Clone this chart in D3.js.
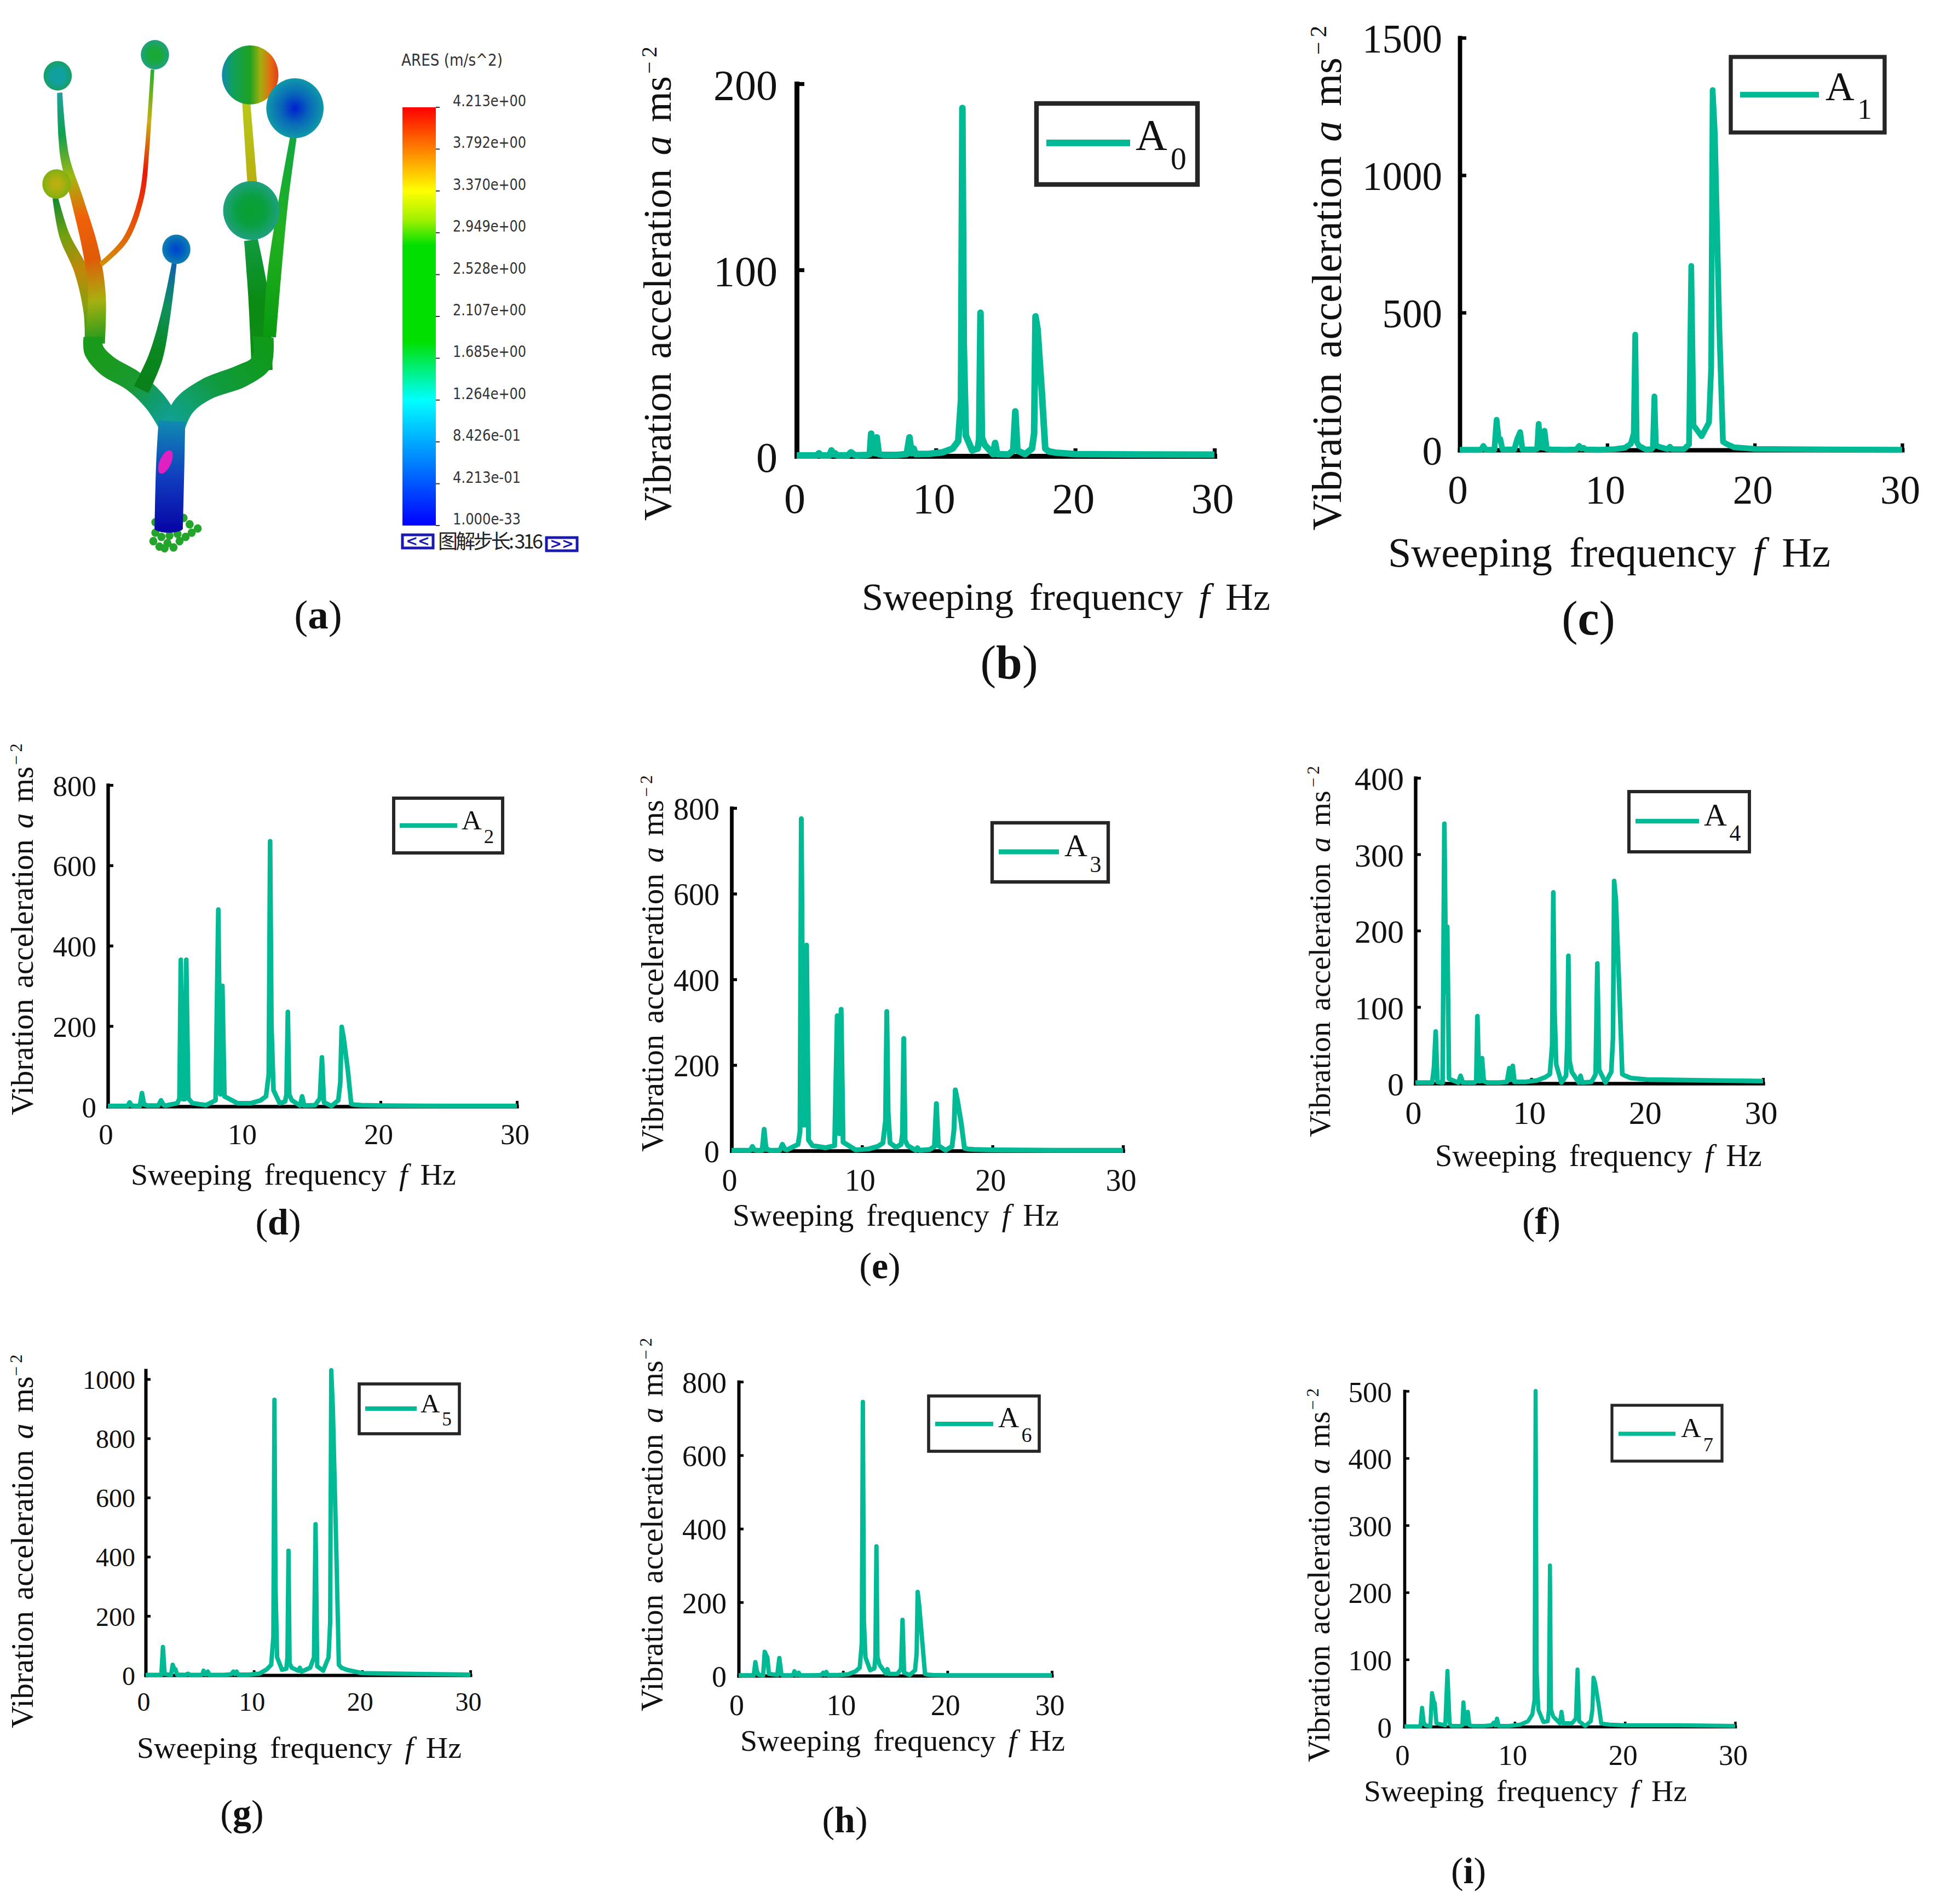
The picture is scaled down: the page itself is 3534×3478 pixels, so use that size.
<!DOCTYPE html>
<html>
<head>
<meta charset="utf-8">
<style>
  html, body { margin: 0; padding: 0; background: #fff; }
  svg { display: block; }
  text { font-family: "Liberation Serif", serif; fill: #111; }
</style>
<script src="https://cdn.jsdelivr.net/npm/d3@7"></script>
</head>
<body>
<div id="chart"></div>
<script>
(function() {
    // sweep frequency shared by all the measuring points (Hz)
    var freq = [
        0, 1.45, 1.6, 1.75, 1.9, 2.35, 2.5, 2.65, 2.75, 2.9, 3.7, 3.9, 4.1, 4.25,
        5.1, 5.25, 5.35, 5.5, 5.65, 5.75, 5.9, 6.2, 7.2, 7.9, 8.1, 8.25, 8.4, 8.55,
        9.5, 10.5, 11.2, 11.6, 11.8, 11.9, 12, 12.15, 12.6, 13, 13.1, 13.2, 13.3, 13.5,
        14.1, 14.25, 14.4, 15.2, 15.55, 15.7, 15.85, 16.4, 16.9, 17.05, 17.15, 17.3, 17.6, 17.85, 18.1, 18.6, 20, 25, 30
    ];

    var A0 = [
        0.3, 0.3, 1.5, 0.3, 0.3, 0.3, 3, 0.8, 1.5, 0.4, 0.4, 2, 0.8, 0.4,
        0.6, 1, 12, 2, 1.5, 10, 1, 0.6, 0.6, 1, 10, 1.5, 4, 1,
        1.2, 2, 4, 8, 30, 187, 60, 11, 3, 4, 9, 77, 10, 6,
        1, 7, 1, 0.8, 3, 24, 3, 1, 4, 12, 75, 68, 35, 4, 2.5, 1.8, 1, 0.8, 0.7
    ];
    var A1 = [
        1, 1, 15, 2, 1, 1, 110, 35, 40, 2, 2, 40, 65, 2,
        2, 4, 95, 10, 8, 70, 4, 2, 1, 2, 15, 5, 8, 2,
        1, 3, 8, 22, 60, 420, 30, 15, 2, 3, 10, 195, 18, 12,
        3, 12, 3, 3, 20, 670, 90, 50, 100, 300, 1310, 1150, 450, 30, 22, 10, 4, 2, 1
    ];
    var A2 = [
        1, 1, 10, 2, 1, 1, 33, 5, 4, 2, 2, 15, 3, 2,
        8, 20, 365, 18, 18, 365, 20, 8, 3, 15, 490, 30, 300, 25,
        8, 8, 15, 25, 80, 660, 200, 40, 8, 12, 30, 235, 30, 15,
        2, 25, 2, 3, 20, 122, 10, 1, 15, 60, 198, 170, 90, 6, 4, 3, 2, 1, 1
    ];
    var A3 = [
        1, 1, 10, 2, 1, 1, 50, 3, 4, 1, 1, 15, 3, 2,
        15, 45, 775, 60, 60, 480, 25, 12, 7, 12, 315, 40, 330, 20,
        2, 4, 10, 18, 70, 325, 90, 18, 8, 15, 40, 262, 25, 12,
        1, 7, 1, 3, 10, 110, 12, 1, 10, 50, 142, 120, 65, 6, 4, 3, 2, 1, 1
    ];
    var A4 = [
        1, 1, 20, 68, 2, 1, 340, 120, 205, 6, 1, 10, 1, 1,
        1, 3, 88, 3, 3, 33, 3, 1, 1, 2, 20, 5, 23, 2,
        2, 4, 8, 12, 50, 250, 100, 25, 1, 10, 50, 167, 30, 15,
        1, 10, 1, 2, 12, 157, 18, 1, 15, 60, 265, 240, 120, 12, 10, 7, 5, 4, 3
    ];
    var A5 = [
        1, 1, 95, 5, 3, 1, 35, 20, 20, 2, 1, 5, 1, 1,
        1, 3, 15, 3, 3, 12, 1, 1, 1, 3, 12, 4, 12, 2,
        2, 5, 20, 35, 130, 930, 300, 60, 18, 22, 60, 420, 40, 25,
        15, 25, 12, 25, 60, 510, 30, 15, 60, 180, 1030, 900, 450, 35, 25, 18, 7, 4, 2
    ];
    var A6 = [
        1, 1, 37, 12, 3, 1, 65, 55, 50, 5, 2, 48, 3, 1,
        1, 3, 12, 2, 2, 8, 1, 1, 1, 2, 8, 3, 10, 2,
        2, 4, 12, 22, 90, 745, 150, 50, 15, 20, 50, 352, 50, 30,
        6, 18, 5, 5, 18, 152, 8, 2, 15, 60, 228, 190, 90, 5, 3, 2, 1, 1, 1
    ];
    var A7 = [
        0.5, 0.5, 28, 6, 2, 0.5, 50, 38, 35, 5, 2, 83, 5, 1,
        1, 2, 36, 4, 4, 22, 2, 1, 1, 2, 6, 2, 12, 1,
        1, 3, 8, 18, 40, 500, 80, 25, 7, 8, 25, 240, 25, 15,
        5, 22, 5, 5, 12, 85, 8, 1, 8, 25, 73, 65, 35, 5, 4, 3, 2, 2, 1
    ];

    var xTicks = [0, 10, 20, 30];
    var colorbarLabels = ["4.213e+00", "3.792e+00", "3.370e+00", "2.949e+00", "2.528e+00", "2.107e+00",
        "1.685e+00", "1.264e+00", "8.426e-01", "4.213e-01", "1.000e-33"];

    var teal = "#00ba96";
    var width = 3534, height = 3478;

    var svg = d3.select("#chart").append("svg")
        .attr("width", width)
        .attr("height", height);
    var defs = svg.append("defs");
    var chart = svg.append("g").attr("transform", "translate(-3,-3)");

    // page layout of the eight response panels
    var panels = [
        { name: "0", values: A0, yMax: 200, yTicks: [0, 100, 200], x0: 1458, x1: 2221, y0: 836, y1: 156, lw: 12, tick: 78, tickY: 104, tickX: 35, tickLen: 14,
          xl: [1577, 2323, 1117], yl: [1228, 954, 142, 88], cap: ["b", 1846, 1242, 86],
          box: [1896, 192, 2190, 340], line: [1914, 2067, 264], a: [2077, 277, 312, 80] },
        { name: "1", values: A1, yMax: 1500, yTicks: [0, 500, 1000, 1500], x0: 2669, x1: 3477, y0: 825, y1: 72, lw: 10.5, tick: 73, tickY: 98, tickX: 32, tickLen: 12,
          xl: [2538, 3346, 1038], yl: [2452, 972, 108, 50], cap: ["c", 2904, 1162, 88],
          box: [3164, 107, 3445, 245], line: [3181, 3325, 176], a: [3337, 186, 220, 73] },
        { name: "2", values: A2, yMax: 800, yTicks: [0, 200, 400, 600, 800], x0: 200, x1: 947, y0: 2024, y1: 1437, lw: 8.5, tick: 53, tickY: 69, tickX: 21, tickLen: 10,
          xl: [242, 836, 2167], yl: [63, 2040, 1403, 1361], cap: ["d", 511, 2258, 68],
          box: [722, 1461, 921, 1561], line: [733, 838, 1511], a: [846, 1518, 1543, 51] },
        { name: "3", values: A3, yMax: 800, yTicks: [0, 200, 400, 600, 800], x0: 1339, x1: 2054, y0: 2105, y1: 1479, lw: 9, tick: 56, tickY: 73, tickX: 22, tickLen: 10,
          xl: [1341, 1937, 2242], yl: [1214, 2107, 1464, 1419], cap: ["e", 1610, 2338, 68],
          box: [1815, 1506, 2027, 1614], line: [1827, 1937, 1559], a: [1947, 1567, 1596, 58] },
        { name: "4", values: A4, yMax: 400, yTicks: [0, 100, 200, 300, 400], x0: 2588, x1: 3223, y0: 1982, y1: 1424, lw: 8.5, tick: 60, tickY: 74, tickX: 21, tickLen: 10,
          xl: [2624, 3221, 2133], yl: [2432, 2080, 1447, 1402], cap: ["f", 2818, 2257, 70],
          box: [2978, 1449, 3198, 1559], line: [2990, 3106, 1503], a: [3115, 1511, 1539, 58] },
        { name: "5", values: A5, yMax: 1030, yTicks: [0, 200, 400, 600, 800, 1000], x0: 269, x1: 862, y0: 3063, y1: 2506, lw: 8, tick: 48, tickY: 65, tickX: 19, tickLen: 9,
          xl: [253, 846, 3214], yl: [63, 3160, 2517, 2477], cap: ["g", 445, 3338, 68],
          box: [659, 2531, 842, 2622], line: [670, 764, 2576], a: [771, 2583, 2607, 49] },
        { name: "6", values: A6, yMax: 800, yTicks: [0, 200, 400, 600, 800], x0: 1352, x1: 1924, y0: 3064, y1: 2527, lw: 8, tick: 54, tickY: 72, tickX: 22, tickLen: 9,
          xl: [1355, 1948, 3201], yl: [1213, 3129, 2488, 2447], cap: ["h", 1546, 3350, 68],
          box: [1699, 2553, 1901, 2654], line: [1711, 1817, 2604], a: [1826, 2610, 2637, 53] },
        { name: "7", values: A7, yMax: 500, yTicks: [0, 100, 200, 300, 400, 500], x0: 2568, x1: 3172, y0: 3157, y1: 2544, lw: 7.5, tick: 53, tickY: 70, tickX: 23, tickLen: 9,
          xl: [2494, 3084, 3293], yl: [2431, 3222, 2581, 2539], cap: ["i", 2685, 3443, 68],
          box: [2947, 2570, 3148, 2672], line: [2959, 3063, 2622], a: [3073, 2628, 2654, 51] }
    ];

    // scale a text element's font so it spans the wanted length
    function fitFont(sel, length) {
        sel.style("font-size", "100px");
        var got = sel.node().getComputedTextLength();
        var size = 100 * length / got;
        sel.style("font-size", size + "px");
        return size;
    }

    function caption(parent, c) {
        var t = parent.append("text")
            .attr("x", c[1])
            .attr("y", c[2])
            .attr("text-anchor", "middle")
            .style("font-size", c[3] + "px");
        t.append("tspan").text("(");
        t.append("tspan").style("font-weight", "bold").text(c[0]);
        t.append("tspan").text(")");
    }

    function drawPanel(p) {
        var x = d3.scaleLinear().domain([0, 30]).range([p.x0, p.x1]);
        var y = d3.scaleLinear().domain([0, p.yMax]).range([p.y0, p.y1]);
        var g = chart.append("g");
        var axisWidth = p.lw * 0.75;

        // AXES
        var xAxis = g.append("g")
            .attr("transform", "translate(0," + p.y0 + ")")
            .call(d3.axisBottom(x).tickValues(xTicks).tickSizeInner(-p.tickLen).tickSizeOuter(0).tickFormat(d3.format("d")));
        var yAxis = g.append("g")
            .attr("transform", "translate(" + p.x0 + ",0)")
            .call(d3.axisLeft(y).tickValues(p.yTicks).tickSizeInner(-p.tickLen).tickSizeOuter(0).tickFormat(d3.format("d")));

        g.selectAll(".domain")
            .attr("stroke", "#000")
            .attr("stroke-width", axisWidth)
            .attr("stroke-linecap", "square");
        g.selectAll(".tick line")
            .attr("stroke", "#000")
            .attr("stroke-width", axisWidth * 0.8);
        g.selectAll(".tick text")
            .attr("fill", "#111")
            .attr("font-family", "Liberation Serif")
            .style("font-size", p.tick + "px");
        xAxis.selectAll(".tick text")
            .attr("dy", 0)
            .attr("x", -4)
            .attr("y", p.tickY);
        yAxis.selectAll(".tick text")
            .attr("dy", 0)
            .attr("x", -p.tickX)
            .attr("y", p.tick * 0.36);

        // CURVE
        var line = d3.line()
            .x(function(d) { return x(d[0]); })
            .y(function(d) { return y(d[1]); });
        g.append("path")
            .datum(d3.zip(freq, p.values))
            .attr("d", line)
            .attr("fill", "none")
            .attr("stroke", teal)
            .attr("stroke-width", p.lw)
            .attr("stroke-linejoin", "round");

        // LABELS
        var xl = g.append("text")
            .attr("x", p.xl[0])
            .attr("y", p.xl[2])
            .style("word-spacing", "0.16em");
        xl.append("tspan").text("Sweeping frequency ");
        xl.append("tspan").style("font-style", "italic").text("f");
        xl.append("tspan").text(" Hz");
        fitFont(xl, p.xl[1] - p.xl[0]);

        var yl = g.append("text")
            .attr("transform", "translate(" + p.yl[0] + "," + p.yl[1] + ") rotate(-90)")
            .style("word-spacing", "0.1em");
        yl.append("tspan").text("Vibration acceleration ");
        yl.append("tspan").style("font-style", "italic").text("a");
        yl.append("tspan").text(" ms");
        var size = fitFont(yl, p.yl[1] - p.yl[2]);

        g.append("text")
            .attr("transform", "translate(" + (p.yl[0] - size * 0.36) + "," + p.yl[3] + ") rotate(-90)")
            .attr("text-anchor", "end")
            .style("font-size", (size * 0.55) + "px")
            .style("font-weight", "300")
            .text("\u2212\u20092");

        // LEGEND
        g.append("rect")
            .attr("x", p.box[0])
            .attr("y", p.box[1])
            .attr("width", p.box[2] - p.box[0])
            .attr("height", p.box[3] - p.box[1])
            .attr("fill", "#fff")
            .attr("stroke", "#262626")
            .attr("stroke-width", p.lw * 0.7);
        g.append("line")
            .attr("x1", p.line[0])
            .attr("x2", p.line[1])
            .attr("y1", p.line[2])
            .attr("y2", p.line[2])
            .attr("stroke", teal)
            .attr("stroke-width", p.lw);
        g.append("text")
            .attr("x", p.a[0])
            .attr("y", p.a[1])
            .style("font-size", p.a[3] + "px")
            .text("A");
        g.append("text")
            .attr("x", p.a[0] + p.a[3] * 0.8)
            .attr("y", p.a[2])
            .style("font-size", (p.a[3] * 0.72) + "px")
            .text(p.name);

        caption(chart, p.cap);
    }

    panels.forEach(drawPanel);

    // ---- panel (a): simulated tree and its colour bar ----

    var barStops = [
        [0, "#ff0000"], [0.1, "#ff8000"], [0.2, "#ffff00"], [0.27, "#a0f000"], [0.33, "#00e000"],
        [0.56, "#00e000"], [0.63, "#00f080"], [0.7, "#00ffff"], [0.85, "#0080ff"], [1, "#0000ff"]
    ];
    var barGrad = defs.append("linearGradient")
        .attr("id", "barGrad")
        .attr("x1", 0).attr("x2", 0).attr("y1", 0).attr("y2", 1);
    barGrad.selectAll("stop")
        .data(barStops)
        .enter().append("stop")
        .attr("offset", function(d) { return d[0]; })
        .attr("stop-color", function(d) { return d[1]; });

    var barY = d3.scalePoint().domain(colorbarLabels).range([198, 962]);
    var bar = svg.append("g");

    bar.append("rect")
        .attr("x", 735).attr("y", 196)
        .attr("width", 61).attr("height", 764)
        .attr("fill", "url(#barGrad)");
    bar.selectAll("line")
        .data(colorbarLabels)
        .enter().append("line")
        .attr("x1", 796).attr("x2", 803)
        .attr("y1", function(d) { return barY(d) - 2; })
        .attr("y2", function(d) { return barY(d) - 2; })
        .attr("stroke", "#333")
        .attr("stroke-width", 2);
    bar.selectAll("text.lab")
        .data(colorbarLabels)
        .enter().append("text")
        .attr("class", "lab")
        .attr("x", 827)
        .attr("y", function(d) { return barY(d) - 4; })
        .attr("textLength", function(d) { return d.indexOf("+") >= 0 ? 134 : 124; })
        .attr("lengthAdjust", "spacingAndGlyphs")
        .style("font-family", "'DejaVu Sans'")
        .style("font-size", "29px")
        .style("fill", "#333")
        .text(function(d) { return d; });
    bar.append("text")
        .attr("x", 733).attr("y", 120)
        .attr("textLength", 185)
        .attr("lengthAdjust", "spacingAndGlyphs")
        .style("font-family", "'DejaVu Sans'")
        .style("font-size", "31px")
        .style("fill", "#333")
        .text("ARES (m/s^2)");

    var buttons = [[735, 977, "<<"], [998, 982, ">>"]];
    buttons.forEach(function(b) {
        bar.append("rect")
            .attr("x", b[0]).attr("y", b[1])
            .attr("width", 56).attr("height", 24)
            .attr("fill", "#fff")
            .attr("stroke", "#1a1ab0")
            .attr("stroke-width", 5);
        bar.append("text")
            .attr("x", b[0] + 28).attr("y", b[1] + 20)
            .attr("text-anchor", "middle")
            .style("font-family", "'DejaVu Sans'")
            .style("font-size", "26px")
            .style("font-weight", "bold")
            .style("fill", "#1a1ab0")
            .text(b[2]);
    });
    bar.append("text")
        .attr("x", 800).attr("y", 1002)
        .attr("textLength", 192)
        .style("font-family", "'Noto Sans CJK SC'")
        .style("font-size", "36px")
        .style("fill", "#222")
        .text("图解步长: 316");

    // centre lines of the limbs: [x, y, width]; colours run from first to last point
    var limbs = [
        { pts: [[650, 880, 52], [640, 700, 50], [622, 570, 34]], colors: ["#0f8f1c", "#0a8a10", "#109a40"] },
        { pts: [[668, 800, 32], [680, 650, 34], [702, 480, 24], [728, 320, 16]], colors: ["#0a9a10", "#20b020", "#12a840"] },
        { pts: [[625, 435, 24], [610, 240, 20]], colors: ["#b8b010", "#b8c818"] },
        { pts: [[235, 815, 50], [230, 740, 46], [200, 640, 34], [160, 560, 26], [137, 470, 14]], colors: ["#1c9a1c", "#88a010", "#c08808", "#70a010", "#108a30"] },
        { pts: [[235, 815, 50], [240, 700, 44], [226, 600, 40], [190, 470, 30], [160, 370, 22], [148, 220, 13]], colors: ["#1f9a1c", "#a8b010", "#e05a08", "#f06008", "#a0b810", "#10a050", "#20a0a0"] },
        { pts: [[250, 628, 12], [310, 570, 14], [350, 470, 13], [365, 350, 11], [378, 165, 9]], colors: ["#d09008", "#e8500a", "#e81808", "#c8b010", "#20b030"] },
        { pts: [[232, 800, 50], [232, 830, 50], [265, 868, 52], [330, 905, 52], [385, 955, 54], [425, 1015, 56]], colors: ["#1a9a1a", "#1a9a20", "#1a9a30", "#109c70", "#10a0a0"] },
        { pts: [[652, 800, 52], [648, 860, 52], [600, 892, 54], [510, 925, 52], [455, 965, 54], [425, 1030, 56]], colors: ["#0f9a18", "#0f9a28", "#109a40", "#10a070", "#10a0a0"] },
        { pts: [[350, 925, 40], [385, 850, 36], [410, 750, 24], [432, 625, 12]], colors: ["#0a8018", "#0a8820", "#109060", "#1060b0"] },
        { pts: [[426, 1000, 66], [422, 1100, 70], [418, 1255, 70]], colors: ["#108ab0", "#1040c0", "#0808a8"] }
    ];
    var spheres = [
        { cx: 143, cy: 180, r: 35, colors: ["#10a0a0", "#10a0a0", "#18a060"] },
        { cx: 384, cy: 130, r: 35, colors: ["#18a830", "#18a840", "#20a080"] },
        { cx: 140, cy: 437, r: 35, colors: ["#c0b010", "#a8b010", "#80b010"] },
        { cx: 437, cy: 592, r: 35, colors: ["#0040d0", "#0060c0", "#1080b0"] },
        { cx: 623, cy: 500, r: 70, colors: ["#08a030", "#08a040", "#20a080"] }
    ];
    var blueSphere = { cx: 731, cy: 257, r: 71, colors: ["#0020d0", "#0868b8", "#1098a8"] };
    var rainbow = [[0, "#1088b0"], [0.18, "#10a060"], [0.5, "#20a020"], [0.68, "#a0b010"], [0.85, "#e07010"], [1, "#e04018"]];
    var footMarks = [
        [385, 1265], [400, 1275], [380, 1285], [395, 1298], [415, 1290], [430, 1300], [445, 1285], [460, 1275],
        [475, 1265], [490, 1255], [470, 1245], [455, 1230], [385, 1240], [420, 1272], [440, 1268], [408, 1302]
    ];

    // zoom factors of the measuring grid used for the tree outline
    var tree = svg.append("g").attr("transform", "scale(" + (1 / 1.357) + "," + (1 / 1.3) + ")");
    var smooth = d3.line().curve(d3.curveCatmullRom);

    tree.selectAll("circle.foot")
        .data(footMarks)
        .enter().append("circle")
        .attr("class", "foot")
        .attr("cx", function(d) { return d[0]; })
        .attr("cy", function(d) { return d[1]; })
        .attr("r", 10)
        .attr("fill", "#22a52a");

    function limbPath(pts) {
        var left = [], right = [];
        pts.forEach(function(p, i) {
            var a = pts[Math.max(i - 1, 0)], b = pts[Math.min(i + 1, pts.length - 1)];
            var dx = b[0] - a[0], dy = b[1] - a[1], len = Math.sqrt(dx * dx + dy * dy);
            var nx = -dy / len * p[2] / 2, ny = dx / len * p[2] / 2;
            left.push([p[0] + nx, p[1] + ny]);
            right.unshift([p[0] - nx, p[1] - ny]);
        });
        return smooth(left) + "L" + smooth(right).slice(1) + "Z";
    }

    limbs.forEach(function(l, i) {
        var first = l.pts[0], last = l.pts[l.pts.length - 1];
        var grad = defs.append("linearGradient")
            .attr("id", "limb" + i)
            .attr("gradientUnits", "userSpaceOnUse")
            .attr("x1", first[0]).attr("y1", first[1])
            .attr("x2", last[0]).attr("y2", last[1]);
        grad.selectAll("stop")
            .data(l.colors)
            .enter().append("stop")
            .attr("offset", function(d, k) { return k / (l.colors.length - 1); })
            .attr("stop-color", function(d) { return d; });
        tree.append("path")
            .attr("d", limbPath(l.pts))
            .attr("fill", "url(#limb" + i + ")");
    });

    // rounded foot of the trunk
    tree.append("ellipse")
        .attr("cx", 418).attr("cy", 1255)
        .attr("rx", 35).attr("ry", 10)
        .attr("fill", "#0808a8");

    tree.append("ellipse")
        .attr("cx", 410).attr("cy", 1097)
        .attr("rx", 14).attr("ry", 30)
        .attr("transform", "rotate(25 410 1097)")
        .attr("fill", "#e020c0");

    function drawSphere(s, i) {
        var grad = defs.append("radialGradient").attr("id", "sphere" + i);
        s.colors.forEach(function(c, k) {
            grad.append("stop").attr("offset", k / 2).attr("stop-color", c);
        });
        tree.append("circle")
            .attr("cx", s.cx).attr("cy", s.cy).attr("r", s.r)
            .attr("fill", "url(#sphere" + i + ")");
    }

    spheres.forEach(drawSphere);

    var rainbowGrad = defs.append("linearGradient").attr("id", "rainbow");
    rainbowGrad.selectAll("stop")
        .data(rainbow)
        .enter().append("stop")
        .attr("offset", function(d) { return d[0]; })
        .attr("stop-color", function(d) { return d[1]; });
    tree.append("circle")
        .attr("cx", 620).attr("cy", 178).attr("r", 70)
        .attr("fill", "url(#rainbow)");

    // big blue sphere sits in front of the striped one
    drawSphere(blueSphere, spheres.length);

    caption(svg, ["a", 581, 1148, 75]);
})();
</script>
</body>
</html>
